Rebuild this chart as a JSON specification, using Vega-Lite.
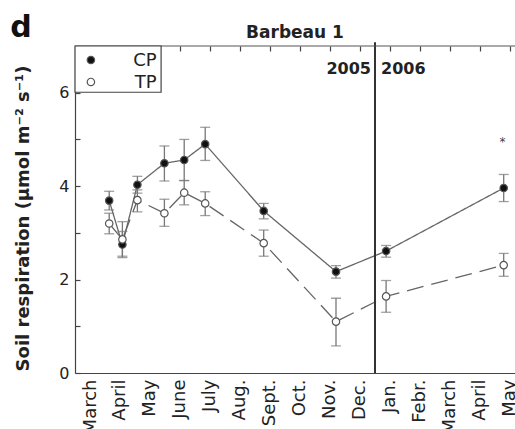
{
  "$schema": "https://vega.github.io/schema/vega-lite/v6.json",
  "width": 440,
  "height": 327,
  "autosize": "none",
  "padding": {"left": 75, "top": 46, "right": 0, "bottom": 56},
  "background": "white",
  "config": {
    "view": {"stroke": null},
    "font": "DejaVu Sans",
    "axisX": {"values": [0.5, 1.5, 2.5, 3.5, 4.5, 5.5, 6.5, 7.5, 8.5, 9.5, 10.5, 11.5, 12.5, 13.5, 14.5],
      "labelExpr": "['March','April','May','June','July','Aug.','Sept.','Oct.','Nov.','Dec.','Jan.','Febr.','March','April','May'][floor(datum.value)]",
      "labelAngle": -90, "tickOffset": 15, "labelOffset": 0, "ticks": false, "labelPadding": 6,
      "grid": true, "gridDash": [5, 2000], "gridColor": "#444", "gridWidth": 1.2, "gridOpacity": 1,
      "labelFontSize": 18, "labelFont": "DejaVu Sans", "labelColor": "#222",
      "domainColor": "#444", "domainWidth": 1.2, "labelFlush": false, "labelOverlap": false},
    "axisY": {"values": [0, 0.4, 0.8, 1.2, 1.6, 2, 2.4, 2.8, 3.2, 3.6, 4, 4.4, 4.8, 5.2, 5.6, 6, 6.4, 6.8],
      "labelExpr": "datum.value === 0 || datum.value === 2 || datum.value === 4 || datum.value === 6 ? format(datum.value, 'd') : ''",
      "ticks": false, "labelPadding": 6, "grid": true, "gridDash": [5, 2000], "gridColor": "#444", "gridWidth": 1.2, "gridOpacity": 1,
      "labelFontSize": 16, "labelFont": "DejaVu Sans", "labelColor": "#222",
      "domainColor": "#444", "domainWidth": 1.2, "labelOverlap": false, "labelFlush": false,
      "titleFont": "DejaVu Sans", "titleFontWeight": "bold", "titleFontSize": 18, "titleColor": "#222", "titlePadding": 26, "titleY": 172}
  },
  "datasets": {
    "resp": [
      {"month": 1.14, "series": "CP", "value": 3.69, "lo": 3.49, "hi": 3.89},
      {"month": 1.58, "series": "CP", "value": 2.75, "lo": 2.47, "hi": 3.03},
      {"month": 2.08, "series": "CP", "value": 4.03, "lo": 3.85, "hi": 4.21},
      {"month": 2.98, "series": "CP", "value": 4.49, "lo": 4.11, "hi": 4.86},
      {"month": 3.64, "series": "CP", "value": 4.56, "lo": 4.12, "hi": 5.0},
      {"month": 4.34, "series": "CP", "value": 4.9, "lo": 4.55, "hi": 5.26},
      {"month": 6.29, "series": "CP", "value": 3.47, "lo": 3.3, "hi": 3.63},
      {"month": 8.7, "series": "CP", "value": 2.17, "lo": 2.03, "hi": 2.3},
      {"month": 10.37, "series": "CP", "value": 2.61, "lo": 2.48, "hi": 2.73},
      {"month": 14.29, "series": "CP", "value": 3.96, "lo": 3.67, "hi": 4.25},
      {"month": 1.14, "series": "TP", "value": 3.2, "lo": 2.98, "hi": 3.42},
      {"month": 1.58, "series": "TP", "value": 2.86, "lo": 2.5, "hi": 3.24},
      {"month": 2.08, "series": "TP", "value": 3.7, "lo": 3.45, "hi": 3.92},
      {"month": 2.98, "series": "TP", "value": 3.42, "lo": 3.14, "hi": 3.72},
      {"month": 3.64, "series": "TP", "value": 3.86, "lo": 3.6, "hi": 4.12},
      {"month": 4.34, "series": "TP", "value": 3.63, "lo": 3.37, "hi": 3.88},
      {"month": 6.29, "series": "TP", "value": 2.78, "lo": 2.5, "hi": 3.06},
      {"month": 8.7, "series": "TP", "value": 1.1, "lo": 0.58, "hi": 1.6},
      {"month": 10.37, "series": "TP", "value": 1.64, "lo": 1.3, "hi": 1.98},
      {"month": 14.29, "series": "TP", "value": 2.31, "lo": 2.07, "hi": 2.56}
    ],
    "yearline": [{"month": 10, "value": 0, "value2": 7.08}],
    "frame": [{"month": 0, "month2": 14.6667, "value": 7}],
    "legendbox": [{"month": 0, "month2": 2.87, "value": 6.01, "value2": 7}],
    "legendrows": [
      {"series": "CP", "month": 0.53, "labelmonth": 2.72, "value": 6.7},
      {"series": "TP", "month": 0.53, "labelmonth": 2.72, "value": 6.23}
    ],
    "notes": [{"month": 10, "value": 6.5, "label": "2005"}],
    "notes2": [{"month": 10, "value": 6.5, "label": "2006"}],
    "star": [{"month": 14.25, "value": 5.0, "label": "*"}],
    "heading": [{"month": 7.3333, "value": 7, "label": "Barbeau 1"}],
    "panel": [{"month": -1.8, "value": 7.2, "label": "d"}]
  },
  "layer": [
    {"data": {"name": "resp"},
      "mark": {"type": "line", "color": "#666", "strokeWidth": 1.3},
      "encoding": {
        "x": {"field": "month", "type": "quantitative", "scale": {"domain": [0, 14.6667], "nice": false, "zero": false}, "title": null},
        "y": {"field": "value", "type": "quantitative", "scale": {"domain": [0, 7], "nice": false}, "title": "Soil respiration (µmol m⁻² s⁻¹)"},
        "strokeDash": {"field": "series", "type": "nominal", "scale": {"domain": ["CP", "TP"], "range": [[1, 0], [17, 8]]}, "legend": null}}},
    {"data": {"name": "resp"},
      "mark": {"type": "rule", "color": "#777", "strokeWidth": 1.3},
      "encoding": {"x": {"field": "month", "type": "quantitative", "title": null}, "y": {"field": "lo", "type": "quantitative", "title": "Soil respiration (µmol m⁻² s⁻¹)"}, "y2": {"field": "hi"}}},
    {"data": {"name": "resp"},
      "mark": {"type": "tick", "orient": "horizontal", "size": 10, "thickness": 1.3, "color": "#777"},
      "encoding": {"x": {"field": "month", "type": "quantitative", "title": null}, "y": {"field": "lo", "type": "quantitative", "title": "Soil respiration (µmol m⁻² s⁻¹)"}}},
    {"data": {"name": "resp"},
      "mark": {"type": "tick", "orient": "horizontal", "size": 10, "thickness": 1.3, "color": "#777"},
      "encoding": {"x": {"field": "month", "type": "quantitative", "title": null}, "y": {"field": "hi", "type": "quantitative", "title": "Soil respiration (µmol m⁻² s⁻¹)"}}},
    {"data": {"name": "resp"},
      "mark": {"type": "point", "shape": "circle", "filled": true, "size": 55, "stroke": "#555", "strokeWidth": 1.2, "opacity": 1},
      "encoding": {
        "x": {"field": "month", "type": "quantitative", "title": null},
        "y": {"field": "value", "type": "quantitative", "title": "Soil respiration (µmol m⁻² s⁻¹)"},
        "color": {"field": "series", "type": "nominal", "scale": {"domain": ["CP", "TP"], "range": ["#111", "#ffffff"]}, "legend": null}
      }},
    {"data": {"name": "yearline"}, "mark": {"type": "rule", "color": "#333", "strokeWidth": 2},
      "encoding": {"x": {"field": "month", "type": "quantitative", "title": null}, "y": {"field": "value", "type": "quantitative", "title": "Soil respiration (µmol m⁻² s⁻¹)"}, "y2": {"field": "value2"}}},
    {"data": {"name": "frame"}, "mark": {"type": "rule", "color": "#555", "strokeWidth": 1.2},
      "encoding": {"x": {"field": "month", "type": "quantitative", "title": null}, "x2": {"field": "month2"}, "y": {"field": "value", "type": "quantitative", "title": "Soil respiration (µmol m⁻² s⁻¹)"}}},
    {"data": {"name": "legendbox"}, "mark": {"type": "rect", "fill": "white", "stroke": "#444", "strokeWidth": 1.2},
      "encoding": {"x": {"field": "month", "type": "quantitative", "title": null}, "x2": {"field": "month2"}, "y": {"field": "value", "type": "quantitative", "title": "Soil respiration (µmol m⁻² s⁻¹)"}, "y2": {"field": "value2"}}},
    {"data": {"name": "legendrows"}, "mark": {"type": "point", "shape": "circle", "filled": true, "size": 55, "stroke": "#555", "strokeWidth": 1.2, "opacity": 1},
      "encoding": {"x": {"field": "month", "type": "quantitative", "title": null}, "y": {"field": "value", "type": "quantitative", "title": "Soil respiration (µmol m⁻² s⁻¹)"},
        "color": {"field": "series", "type": "nominal", "legend": null}}},
    {"data": {"name": "legendrows"}, "mark": {"type": "text", "align": "right", "baseline": "middle", "dy": 1, "font": "DejaVu Sans", "fontSize": 18, "color": "#222"},
      "encoding": {"x": {"field": "labelmonth", "type": "quantitative", "title": null}, "y": {"field": "value", "type": "quantitative", "title": "Soil respiration (µmol m⁻² s⁻¹)"}, "text": {"field": "series"}}},
    {"data": {"name": "notes"}, "mark": {"type": "text", "align": "right", "baseline": "middle", "dx": -4, "font": "DejaVu Sans", "fontWeight": "bold", "fontSize": 16, "color": "#222"},
      "encoding": {"x": {"field": "month", "type": "quantitative", "title": null}, "y": {"field": "value", "type": "quantitative", "title": "Soil respiration (µmol m⁻² s⁻¹)"}, "text": {"field": "label"}}},
    {"data": {"name": "notes2"}, "mark": {"type": "text", "align": "left", "baseline": "middle", "dx": 6, "font": "DejaVu Sans", "fontWeight": "bold", "fontSize": 16, "color": "#222"},
      "encoding": {"x": {"field": "month", "type": "quantitative", "title": null}, "y": {"field": "value", "type": "quantitative", "title": "Soil respiration (µmol m⁻² s⁻¹)"}, "text": {"field": "label"}}},
    {"data": {"name": "star"}, "mark": {"type": "text", "align": "center", "baseline": "middle", "dy": 3, "fontSize": 12, "color": "#444"},
      "encoding": {"x": {"field": "month", "type": "quantitative", "title": null}, "y": {"field": "value", "type": "quantitative", "title": "Soil respiration (µmol m⁻² s⁻¹)"}, "text": {"field": "label"}}},
    {"data": {"name": "heading"}, "mark": {"type": "text", "align": "center", "baseline": "alphabetic", "dy": -8, "font": "DejaVu Sans", "fontWeight": "bold", "fontSize": 17, "color": "#222"},
      "encoding": {"x": {"field": "month", "type": "quantitative", "title": null}, "y": {"field": "value", "type": "quantitative", "title": "Soil respiration (µmol m⁻² s⁻¹)"}, "text": {"field": "label"}}},
    {"data": {"name": "panel"}, "mark": {"type": "text", "align": "center", "baseline": "alphabetic", "font": "DejaVu Sans", "fontWeight": "bold", "fontSize": 30, "color": "#111"},
      "encoding": {"x": {"field": "month", "type": "quantitative", "title": null}, "y": {"field": "value", "type": "quantitative", "title": "Soil respiration (µmol m⁻² s⁻¹)"}, "text": {"field": "label"}}}
  ]
}
